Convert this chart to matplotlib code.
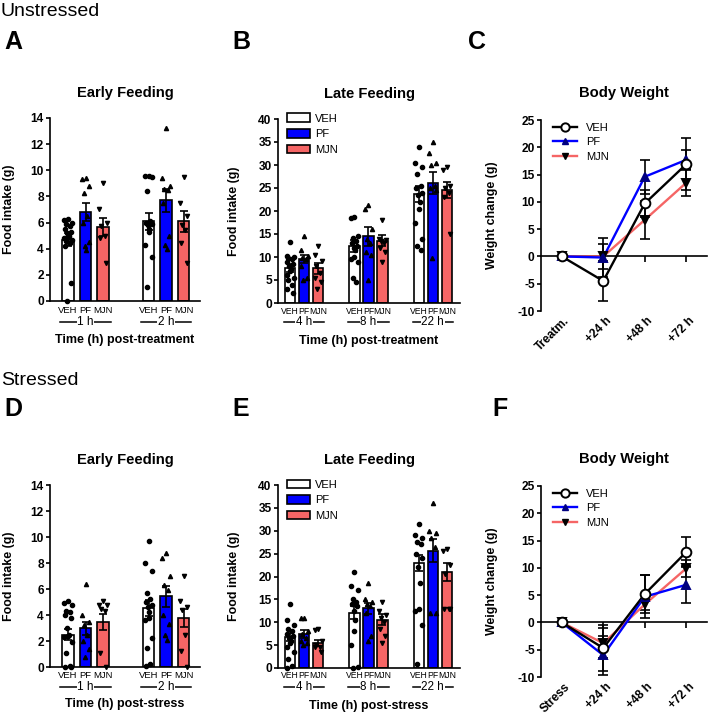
import numpy as np
import matplotlib
matplotlib.use('Agg')
import matplotlib.pyplot as plt
from matplotlib import transforms
from matplotlib.patches import Patch
from matplotlib.lines import Line2D

plt.rcParams['font.family'] = ['Liberation Sans', 'DejaVu Sans']

W, H = 709, 716

groups = ['VEH', 'PF', 'MJN']
bar_colors = ['white', '#0000ff', '#f56565']
dot_markers = ['o', '^', 'v']

# ---- A: unstressed, early feeding
a_times = ['1 h', '2 h']
a_mean = [[4.7, 6.8, 5.65], [6.1, 7.7, 6.1]]
a_sem = [[0.5, 0.7, 0.7], [0.65, 0.9, 0.8]]
a_pts = [
    [[6.3, 6.2, 6.0, 5.9, 5.7, 5.5, 5.3, 5.2, 5.0, 4.9, 4.8, 4.7, 4.6, 4.4, 4.2, 1.4, 0.0],
     [9.4, 9.3, 8.8, 8.3, 6.5, 6.0, 4.5, 4.2, 3.9],
     [9.0, 7.0, 6.0, 5.7, 5.0, 4.8, 2.9]],
    [[9.6, 9.6, 9.5, 8.4, 6.1, 6.0, 5.9, 5.8, 5.5, 5.3, 4.3, 3.4, 1.1],
     [13.2, 9.4, 8.8, 8.6, 8.5, 7.5, 5.0, 4.3, 4.0],
     [9.5, 7.5, 6.5, 5.8, 5.4, 4.4, 2.9]],
]

# ---- B: unstressed, late feeding
b_times = ['4 h', '8 h', '22 h']
b_mean = [[7.6, 9.6, 7.6], [12.4, 14.5, 13.5], [23.7, 26.0, 24.5]]
b_sem = [[0.9, 0.9, 1.2], [1.3, 2.0, 1.2], [1.7, 2.4, 1.7]]
b_pts = [
    [[13.2, 10.3, 10.0, 9.8, 9.5, 9.0, 8.5, 8.0, 7.5, 7.0, 6.0, 5.5, 5.0, 4.0, 3.0, 2.2],
     [14.5, 11.5, 10.2, 9.8, 9.5, 8.0, 5.5, 5.0],
     [12.5, 10.5, 9.2, 8.0, 6.5, 5.5, 4.5, 3.0]],
    [[18.8, 18.5, 14.5, 14.2, 13.5, 13.0, 12.5, 12.0, 11.5, 10.0, 9.5, 9.0, 5.5, 4.5],
     [21.2, 20.5, 16.0, 14.0, 13.0, 11.0, 10.5, 5.0],
     [18.0, 14.0, 13.8, 13.5, 13.0, 12.0, 11.0, 9.0]],
    [[34.0, 30.5, 29.5, 28.0, 25.5, 25.0, 24.0, 23.5, 22.0, 20.5, 17.5, 14.0, 12.5, 11.5],
     [35.0, 32.5, 30.5, 30.0, 25.5, 25.0, 24.5, 9.8],
     [29.5, 29.0, 25.5, 25.0, 24.0, 23.0, 15.0]],
]

# ---- C: unstressed, body weight
c_times = ['Treatm.', '+24 h', '+48 h', '+72 h']
c_veh = [0, -4.5, 9.7, 16.9]
c_veh_err = [0, 3.6, 2.5, 4.8]
c_pf = [0, -0.2, 14.6, 17.7]
c_pf_err = [0, 3.6, 3.1, 1.8]
c_mjn = [0, 0.0, 6.7, 13.5]
c_mjn_err = [0, 2.3, 3.5, 2.5]

# ---- D: stressed, early feeding
d_times = ['1 h', '2 h']
d_mean = [[2.5, 3.0, 3.45], [4.55, 5.45, 3.8]]
d_sem = [[0.4, 0.5, 0.6], [0.6, 0.8, 0.7]]
d_pts = [
    [[5.1, 4.9, 4.8, 4.3, 4.2, 4.0, 3.8, 3.0, 2.5, 2.4, 2.3, 1.9, 1.1, 0.1, 0.0, 0.0],
     [6.4, 4.0, 3.5, 3.2, 2.5, 2.0, 1.4, 0.8],
     [5.1, 4.8, 4.8, 4.5, 4.3, 1.1, 0.0]],
    [[9.7, 8.0, 7.4, 5.7, 5.2, 5.0, 4.8, 4.6, 4.2, 3.8, 3.6, 2.2, 1.5, 0.2, 0.1],
     [8.8, 8.4, 7.0, 6.3, 5.9, 4.0, 3.3, 2.5, 2.1],
     [7.0, 5.1, 4.6, 4.4, 2.5, 1.2, 0.0]],
]

# ---- E: stressed, late feeding
e_times = ['4 h', '8 h', '22 h']
e_mean = [[6.8, 7.4, 5.5], [12.1, 13.1, 10.6], [22.9, 25.6, 21.0]]
e_sem = [[0.9, 0.8, 0.7], [1.4, 1.2, 1.1], [1.8, 2.5, 1.9]]
e_pts = [
    [[14.0, 10.5, 9.5, 8.5, 8.0, 7.5, 7.0, 6.5, 6.0, 5.5, 4.5, 3.5, 2.0, 0.5, 0.0],
     [11.0, 11.0, 8.0, 7.5, 6.5, 6.0, 5.5, 5.0],
     [8.5, 8.3, 6.0, 5.0, 4.5, 4.5, 3.5]],
    [[21.0, 18.0, 17.0, 15.0, 14.5, 14.0, 13.5, 12.5, 10.5, 8.0, 5.0, 0.2, 0.0],
     [18.5, 15.0, 14.5, 14.0, 13.5, 12.0, 7.0, 6.0],
     [14.5, 12.5, 11.5, 11.0, 10.0, 8.5, 7.0, 5.5]],
    [[31.5, 29.0, 28.5, 27.5, 27.0, 25.0, 24.0, 22.0, 18.5, 13.0, 12.5, 9.5, 0.8],
     [36.0, 30.0, 29.5, 28.5, 26.5, 12.0, 12.0],
     [26.0, 25.5, 22.5, 20.5, 13.0, 13.0, 13.0]],
]

# ---- F: stressed, body weight
f_times = ['Stress', '+24 h', '+48 h', '+72 h']
f_veh = [0, -4.7, 5.2, 12.9]
f_veh_err = [0, 4.2, 3.5, 2.8]
f_pf = [0, -6.0, 4.7, 6.9]
f_pf_err = [0, 3.6, 3.9, 3.4]
f_mjn = [0, -3.8, 3.3, 9.9]
f_mjn_err = [0, 2.7, 1.0, 1.6]


fig = plt.figure(figsize=(W / 100, H / 100), dpi=100)

narrow = ['Liberation Sans Narrow', 'Liberation Sans', 'DejaVu Sans']


def px_box(left, right, top, bottom):
    return [left / W, 1 - bottom / H, (right - left) / W, (bottom - top) / H]


def fig_text(x, y, s, **kw):
    fig.text(x / W, 1 - y / H, s, **kw)


def base_style(ax, ymin, ymax, ystep):
    for s in ['top', 'right']:
        ax.spines[s].set_visible(False)
    for s in ['left', 'bottom']:
        ax.spines[s].set_linewidth(1.2)
    ax.set_ylim(ymin, ymax)
    yt = np.arange(ymin, ymax + 0.1, ystep)
    ax.set_yticks(yt, [f'{v:g}' for v in yt], fontweight='bold', fontsize=8.6)
    ax.tick_params(axis='y', length=3, width=1.2, pad=1.5)


def spread(vals, width):
    # simple column-scatter layout, alternate left/right
    order = np.argsort(vals)[::-1]
    pattern = np.array([0, -1, 1, -0.5, 0.5, -0.8, 0.8, -0.25, 0.25])
    dx = np.zeros(len(vals))
    for i, idx in enumerate(order):
        dx[idx] = pattern[i % len(pattern)] * width * 0.33
    return dx


def bar_panel(ax, times, means, sems, points, ymax, ystep, gap, xlim, width,
              title, xlabel, offs, cat_fs, grp_fs):
    base_style(ax, 0, ymax, ystep)
    ax.set_xlim(*xlim)
    ax.set_xticks([])
    trans = transforms.blended_transform_factory(ax.transData, ax.transAxes)
    t_cat = transforms.offset_copy(trans, y=-offs[0], units='dots')
    t_grp = transforms.offset_copy(trans, y=-offs[1], units='dots')
    for g, t in enumerate(times):
        xs = [g * gap + k for k in range(3)]
        for k in range(3):
            ax.bar(xs[k], means[g][k], width, color=bar_colors[k],
                   edgecolor='black', linewidth=1.2, zorder=2)
            ax.errorbar(xs[k], means[g][k], yerr=sems[g][k], color='black',
                        capsize=3, elinewidth=1.2, capthick=1.2, zorder=4)
            vals = np.array(points[g][k])
            ax.plot(xs[k] + spread(vals, width), vals, linestyle='none',
                    marker=dot_markers[k], color='black', ms=3, zorder=3,
                    clip_on=False)
            ax.text(xs[k], 0, groups[k], transform=t_cat, ha='center',
                    va='center', fontsize=cat_fs, family=narrow)
        ax.plot([xs[0] - 0.45, xs[2] + 0.45], [0, 0], color='black', lw=1.1,
                transform=t_grp, clip_on=False, zorder=1)
        ax.text(xs[1], 0, t, transform=t_grp, ha='center', va='center',
                fontsize=grp_fs, zorder=5,
                bbox=dict(facecolor='white', edgecolor='none', pad=0.4))
    t_lab = transforms.offset_copy(ax.transAxes, y=-offs[2], units='dots')
    ax.text(0.5, 0, xlabel, transform=t_lab, ha='center', va='center',
            fontsize=9, fontweight='bold')
    t_tit = transforms.offset_copy(ax.transAxes, y=25, units='dots')
    ax.text(0.5, 1, title, transform=t_tit, ha='center', va='center',
            fontsize=10.6, fontweight='bold')
    ax.set_ylabel('Food intake (g)', fontsize=8.9, fontweight='bold')


def bar_legend(ax):
    handles = [Patch(facecolor=c, edgecolor='black', linewidth=1.2) for c in bar_colors]
    ax.legend(handles, groups, loc='upper left', bbox_to_anchor=(0.05, 1.03),
              frameon=False, fontsize=8, handlelength=2.1, handleheight=0.8,
              labelspacing=0.5, handletextpad=0.45, borderpad=0, borderaxespad=0)


def line_panel(ax, times, veh, veh_err, pf, pf_err, mjn, mjn_err):
    base_style(ax, -10, 25, 5)
    ax.spines['bottom'].set_position(('data', 0))
    x = np.arange(len(times))
    ax.set_xlim(-0.5, 3.5)
    ax.set_xticks(x)
    ax.tick_params(axis='x', labelbottom=False, length=4, width=1.2)
    trans = transforms.blended_transform_factory(ax.transData, ax.transAxes)
    t_lab = transforms.offset_copy(trans, x=6, y=-8, units='dots')
    for xi, lab in zip(x, times):
        ax.text(xi, 0, lab, transform=t_lab, rotation=45, ha='right',
                va='center', rotation_mode='anchor', fontsize=8.6,
                fontweight='bold')
    series = [
        (mjn, mjn_err, '#f56565', 'v', 'black', 'black', 6),
        (pf, pf_err, '#0000ff', '^', '#000080', '#000080', 5.5),
        (veh, veh_err, 'black', 'o', 'white', 'black', 7),
    ]
    for y, e, col, mk, mfc, mec, ms in series:
        ax.errorbar(x, y, yerr=e, fmt='none', ecolor='black', capsize=3.5,
                    elinewidth=1.2, capthick=1.2, zorder=3)
        ax.plot(x, y, color=col, lw=1.7, zorder=4)
        ax.plot(x, y, linestyle='none', marker=mk, ms=ms, mfc=mfc, mec=mec,
                mew=1.4, zorder=5)
    handles = [
        Line2D([], [], color='black', lw=1.7, marker='o', ms=6, mfc='white', mec='black', mew=1.4),
        Line2D([], [], color='#0000ff', lw=1.7, marker='^', ms=5, mfc='#000080', mec='#000080'),
        Line2D([], [], color='#f56565', lw=1.7, marker='v', ms=5, mfc='black', mec='black'),
    ]
    ax.legend(handles, groups, loc='upper left', bbox_to_anchor=(0.07, 0.985),
              frameon=False, fontsize=8, handlelength=2.2, labelspacing=0.4,
              handletextpad=0.8, borderpad=0, borderaxespad=0)
    t_tit = transforms.offset_copy(ax.transAxes, y=27, units='dots')
    ax.text(0.5, 1, 'Body Weight', transform=t_tit, ha='center', va='center',
            fontsize=10.6, fontweight='bold')
    ax.set_ylabel('Weight change (g)', fontsize=8.9, fontweight='bold')


ax_a = fig.add_axes(px_box(50, 200, 118, 301))
bar_panel(ax_a, a_times, a_mean, a_sem, a_pts, 14, 2, 4.6, (-1.03, 7.54), 0.65,
          'Early Feeding', 'Time (h) post-treatment', (10, 21, 39), 6.8, 8.6)
ax_a.yaxis.set_label_coords(-0.233, 0.5)

ax_b = fig.add_axes(px_box(278, 460, 119, 303))
bar_panel(ax_b, b_times, b_mean, b_sem, b_pts, 40, 5, 4.6, (-0.86, 12.14), 0.75,
          'Late Feeding', 'Time (h) post-treatment', (8, 19, 38), 6.2, 8.4)
bar_legend(ax_b)
ax_b.yaxis.set_label_coords(-0.209, 0.5)

ax_c = fig.add_axes(px_box(541, 707, 120, 311))
line_panel(ax_c, c_times, c_veh, c_veh_err, c_pf, c_pf_err, c_mjn, c_mjn_err)
ax_c.yaxis.set_label_coords(-0.259, 0.5)

ax_d = fig.add_axes(px_box(50, 200, 485, 667))
bar_panel(ax_d, d_times, d_mean, d_sem, d_pts, 14, 2, 4.6, (-1.03, 7.54), 0.65,
          'Early Feeding', 'Time (h) post-stress', (9, 20, 37), 6.8, 8.6)
ax_d.yaxis.set_label_coords(-0.233, 0.5)

ax_e = fig.add_axes(px_box(278, 460, 485, 668))
bar_panel(ax_e, e_times, e_mean, e_sem, e_pts, 40, 5, 4.6, (-0.86, 12.14), 0.75,
          'Late Feeding', 'Time (h) post-stress', (8, 19, 38), 6.2, 8.4)
bar_legend(ax_e)
ax_e.yaxis.set_label_coords(-0.209, 0.5)

ax_f = fig.add_axes(px_box(541, 707, 486, 677))
line_panel(ax_f, f_times, f_veh, f_veh_err, f_pf, f_pf_err, f_mjn, f_mjn_err)
ax_f.yaxis.set_label_coords(-0.259, 0.5)

fig_text(1, 11, 'Unstressed', fontsize=14, va='center', ha='left')
fig_text(1, 381, 'Stressed', fontsize=14, va='center', ha='left')
for x, y, s in [(4, 42, 'A'), (232, 42, 'B'), (468, 42, 'C'),
                (4, 409, 'D'), (232, 409, 'E'), (492, 409, 'F')]:
    fig_text(x, y, s, fontsize=18, fontweight='bold', va='center', ha='left')

fig.savefig('out.png', dpi=100)
